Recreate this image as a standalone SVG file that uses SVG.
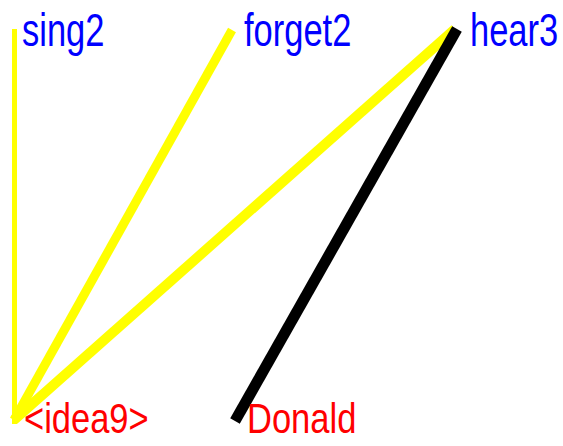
<svg xmlns="http://www.w3.org/2000/svg" width="563" height="446" viewBox="0 0 563 446">
<style>
.y{stroke:#ffff00;fill:none}
.k{stroke:#000;fill:none;stroke-width:11}
.lb{font-family:"Liberation Sans",Arial,sans-serif;font-size:34.5px}
.top{fill:#0000ff}
.bot{fill:#ff0000}
</style>
<rect width="563" height="446" fill="#fff"/>
<g id="connectors">
<line class="y" x1="14.5" y1="29" x2="14.5" y2="424" stroke-width="5"/>
<line class="y" x1="232" y1="30" x2="14" y2="420" stroke-width="9"/>
<line class="y" x1="455" y1="29" x2="14" y2="420" stroke-width="10"/>
<line class="k" x1="457" y1="29" x2="235" y2="421"/>
</g>
<g id="sing2"><text class="lb top" transform="translate(22,45.5) scale(1,1.33)">sing2</text></g>
<g id="forget2"><text class="lb top" transform="translate(244,45.5) scale(1,1.33)">forget2</text></g>
<g id="hear3"><text class="lb top" transform="translate(470,45.5) scale(1,1.33)">hear3</text></g>
<g id="idea9"><text class="lb bot" transform="translate(24,433) scale(1,1.25)">&lt;idea9&gt;</text></g>
<g id="Donald"><text class="lb bot" transform="translate(247,433) scale(1,1.25)">Donald</text></g>
</svg>
